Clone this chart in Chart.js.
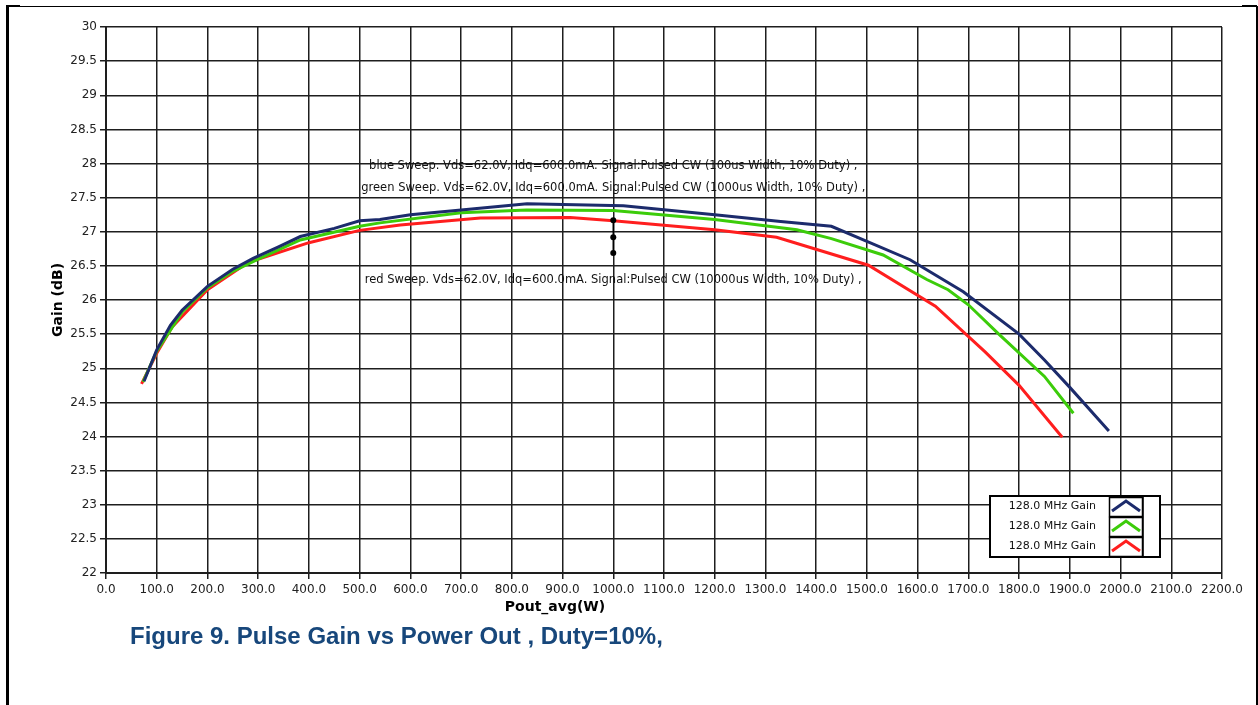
<!DOCTYPE html>
<html>
<head>
<meta charset="utf-8">
<script src="https://cdn.jsdelivr.net/npm/chart.js@4/dist/chart.umd.min.js"></script>
<style>
  html, body { margin: 0; padding: 0; background: #fff; }
  body { width: 1258px; height: 705px; position: relative; overflow: hidden; }
  #frame { position: absolute; left: 6px; top: 6px; width: 1247px; height: 720px;
    border-left: 3px solid #000; border-top: 1px solid #000; border-right: 2px solid #000; }
  .corner { position: absolute; background: #000; height: 2px; top: 5px; }
  #chart { position: absolute; left: 0; top: 0; }
  #caption { position: absolute; left: 130px; top: 622px; line-height: 28px;
    font: bold 24px "Liberation Sans", Arial, sans-serif; color: #17477b; white-space: nowrap; }
</style>
</head>
<body>
<div id="frame"></div>
<div class="corner" style="left:6px;width:14px"></div>
<div class="corner" style="left:1242px;width:15px"></div>
<canvas id="chart" width="1258" height="705"></canvas>
<div id="caption">Figure 9. Pulse Gain vs Power Out , Duty=10%,</div>
<script>
// Pout (W) / Gain (dB)
const bluePout = [75, 100, 127, 150, 200, 250, 290, 340, 383, 450, 500, 540, 600, 700, 830, 1020, 1200, 1330, 1430, 1500, 1585, 1690, 1800, 1850, 1900, 1977]
const blueGain = [24.81, 25.27, 25.63, 25.85, 26.2, 26.45, 26.61, 26.78, 26.93, 27.05, 27.16, 27.18, 27.25, 27.32, 27.41, 27.38, 27.25, 27.15, 27.08, 26.86, 26.59, 26.12, 25.5, 25.12, 24.72, 24.08]

const greenPout = [73, 100, 150, 200, 250, 300, 383, 500, 540, 700, 829, 1000, 1200, 1362, 1430, 1532, 1618, 1660, 1700, 1760, 1850, 1907]
const greenGain = [24.8, 25.25, 25.82, 26.18, 26.42, 26.6, 26.88, 27.08, 27.13, 27.28, 27.32, 27.31, 27.18, 27.03, 26.9, 26.66, 26.3, 26.15, 25.93, 25.5, 24.88, 24.34]

const redPout = [70, 100, 130, 200, 280, 400, 500, 580, 738, 915, 1000, 1200, 1322, 1503, 1635, 1733, 1800, 1885]
const redGain = [24.77, 25.22, 25.6, 26.15, 26.55, 26.84, 27.02, 27.1, 27.2, 27.21, 27.16, 27.03, 26.92, 26.51, 25.91, 25.24, 24.75, 23.99]

// cursor dots and their notes
const cursorPout = [1000, 1000, 1000]
const cursorGain = [27.17, 26.92, 26.69]
const noteGain = [27.97, 27.64, 26.29]
const noteText = [
    'blue Sweep. Vds=62.0V, Idq=600.0mA. Signal:Pulsed CW (100us Width, 10% Duty) ,',
    'green Sweep. Vds=62.0V, Idq=600.0mA. Signal:Pulsed CW (1000us Width, 10% Duty) ,',
    'red Sweep. Vds=62.0V, Idq=600.0mA. Signal:Pulsed CW (10000us Width, 10% Duty) ,'
]

const legendLabels = ['128.0 MHz Gain', '128.0 MHz Gain', '128.0 MHz Gain']
const xTitle = 'Pout_avg(W)'

const toPoints = (xs, ys) => xs.map((x, i) => ({ x: x, y: ys[i] }))

const tickFont = { family: 'DejaVu Sans', size: 12 }
const titleFont = { family: 'DejaVu Sans', size: 14, weight: 'bold' }

const notesPlugin = {
    id: 'notes',
    afterDatasetsDraw(chart) {
        const ctx = chart.ctx
        const xs = chart.scales.x
        const ys = chart.scales.y
        ctx.save()
        ctx.font = '11.5px "DejaVu Sans"'
        ctx.fillStyle = '#111'
        ctx.textAlign = 'center'
        ctx.textBaseline = 'middle'
        noteText.forEach((t, i) => {
            ctx.fillText(t, xs.getPixelForValue(cursorPout[i]), ys.getPixelForValue(noteGain[i]))
        })
        // x axis title sits left of centre in the original
        ctx.font = 'bold 14px "DejaVu Sans"'
        ctx.fillStyle = '#000'
        ctx.fillText(xTitle, chart.chartArea.left + 449, chart.chartArea.bottom + 34)
        ctx.restore()
    }
}

const legendPlugin = {
    id: 'boxLegend',
    afterDraw(chart) {
        const ctx = chart.ctx
        const area = chart.chartArea
        const right = area.right - 62
        const left = right - 170
        const top = 496
        const rowH = 20
        const sets = chart.data.datasets.slice(1)
        ctx.save()
        ctx.fillStyle = '#fff'
        ctx.fillRect(left, top, right - left, rowH * 3 + 1)
        ctx.strokeStyle = '#000'
        ctx.lineWidth = 2
        ctx.strokeRect(left, top, right - left, rowH * 3 + 1)
        ctx.font = '11px "DejaVu Sans"'
        ctx.textAlign = 'right'
        ctx.textBaseline = 'middle'
        sets.forEach((ds, i) => {
            const y = top + i * rowH
            ctx.fillStyle = '#111'
            ctx.fillText(legendLabels[i], left + 106, y + 10.5)
            ctx.lineWidth = 1.5
            ctx.strokeStyle = '#000'
            ctx.strokeRect(left + 119.5, y + 1.5, 33, rowH - 1)
            ctx.strokeStyle = ds.borderColor
            ctx.lineWidth = 3
            ctx.beginPath()
            ctx.moveTo(left + 122, y + 15)
            ctx.lineTo(left + 136, y + 5)
            ctx.lineTo(left + 150, y + 15)
            ctx.stroke()
        })
        ctx.lineWidth = 1.5
        ctx.strokeStyle = '#000'
        ctx.beginPath()
        ctx.moveTo(left + 153, top)
        ctx.lineTo(left + 153, top + rowH * 3 + 1)
        ctx.stroke()
        ctx.restore()
    }
}

const lineSet = (label, xs, ys, color) => ({
    label: label,
    data: toPoints(xs, ys),
    showLine: true,
    borderColor: color,
    backgroundColor: color,
    borderWidth: 3,
    pointRadius: 0,
    tension: 0
})

new Chart(document.querySelector('#chart'), {
    type: 'scatter',
    data: {
        datasets: [
            {
                label: 'cursor',
                data: toPoints(cursorPout, cursorGain),
                showLine: true,
                borderColor: '#000',
                backgroundColor: '#000',
                borderWidth: 1.5,
                pointRadius: 3,
                pointBorderWidth: 0
            },
            lineSet(legendLabels[0], bluePout, blueGain, '#1c2b6c'),
            lineSet(legendLabels[1], greenPout, greenGain, '#3ccc0a'),
            lineSet(legendLabels[2], redPout, redGain, '#ff1e1e')
        ]
    },
    options: {
        responsive: false,
        animation: false,
        layout: { padding: { left: 47, top: 27, right: 36, bottom: 87 } },
        plugins: { legend: { display: false }, tooltip: { enabled: false } },
        scales: {
            x: {
                type: 'linear',
                min: 0,
                max: 2200,
                afterFit: (s) => { s.height = 45 },
                ticks: {
                    stepSize: 100,
                    autoSkip: false,
                    maxRotation: 0,
                    padding: 4,
                    color: '#222',
                    font: tickFont,
                    callback: (v) => v.toFixed(1)
                },
                grid: { color: '#1e1e1e', lineWidth: 1.5, tickLength: 6 },
                border: { color: '#1e1e1e', width: 2 }
            },
            y: {
                min: 22,
                max: 30,
                afterFit: (s) => { s.width = 59 },
                ticks: {
                    stepSize: 0.5,
                    padding: 3,
                    color: '#222',
                    font: tickFont,
                    callback: (v) => String(v)
                },
                grid: { color: '#1e1e1e', lineWidth: 1.5, tickLength: 6 },
                border: { color: '#1e1e1e', width: 2 },
                title: { display: true, text: 'Gain (dB)', color: '#000', font: titleFont, padding: 3 }
            }
        }
    },
    plugins: [notesPlugin, legendPlugin]
})
</script>
</body>
</html>
